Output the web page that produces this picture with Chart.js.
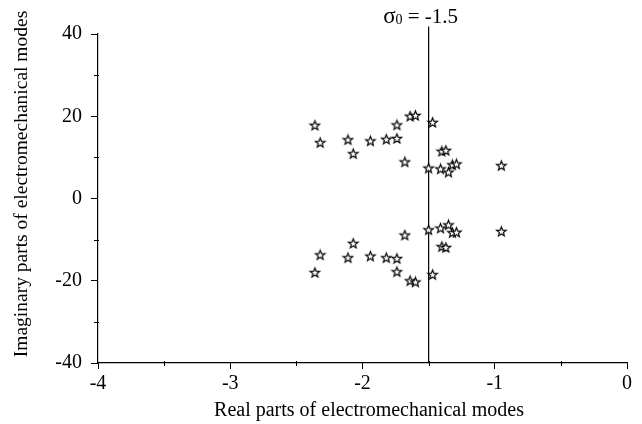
<!DOCTYPE html>
<html>
<head>
<meta charset="utf-8">
<script src="https://cdn.jsdelivr.net/npm/chart.js@4.4.1/dist/chart.umd.min.js"></script>
<style>
html,body{margin:0;padding:0;background:#fff;}
#wrap{width:642px;height:424px;}
</style>
</head>
<body>
<div id="wrap"><canvas id="c" width="642" height="424"></canvas></div>
<script>
// Data
const realParts = [-2.36, -2.32, -2.11, -2.07, -1.94, -1.82, -1.74, -1.74, -1.68, -1.64,
                   -1.60, -1.47, -1.50, -1.41, -1.35, -1.40, -1.37, -1.32, -1.29, -0.95];
const imagUpper = [17.8, 13.6, 14.3, 10.9, 14.0, 14.4, 14.6, 17.9, 8.9, 20.0,
                   20.2, 18.5, 7.4, 7.2, 6.4, 11.5, 11.7, 8.2, 8.4, 8.0];
const imagLower = [-18.0, -13.7, -14.4, -10.9, -14.0, -14.4, -14.6, -17.8, -8.9, -20.0,
                   -20.3, -18.5, -7.6, -7.2, -6.4, -11.7, -11.9, -8.3, -8.2, -8.0];
const sigma0 = -1.5;
const xTicks = [-4, -3, -2, -1, 0];
const yTicks = [-40, -20, 0, 20, 40];
const xMinorTicks = [-3.5, -2.5, -1.5, -0.5];
const yMinorTicks = [-30, -10, 10, 30];
const xTitle = 'Real parts of electromechanical modes';
const yTitle = 'Imaginary parts of electromechanical modes';

const FONT = '"Liberation Serif", "Times New Roman", serif';

// star marker
function makeStar() {
  const c = document.createElement('canvas');
  c.width = 13; c.height = 13;
  const g = c.getContext('2d');
  const cx = 6.5, cy = 6.9, R = 5.0, r = 2.1;
  g.beginPath();
  for (let i = 0; i < 10; i++) {
    const a = -Math.PI / 2 + i * Math.PI / 5;
    const rad = i % 2 === 0 ? R : r;
    const px = cx + rad * Math.cos(a), py = cy + rad * Math.sin(a);
    if (i === 0) g.moveTo(px, py); else g.lineTo(px, py);
  }
  g.closePath();
  g.fillStyle = '#fff';
  g.fill();
  g.lineWidth = 1.2;
  g.strokeStyle = '#000';
  g.lineJoin = 'miter';
  g.stroke();
  return c;
}
const star = makeStar();

const pointsUpper = realParts.map((x, i) => ({x: x, y: imagUpper[i]}));
const pointsLower = realParts.map((x, i) => ({x: x, y: imagLower[i]}));

const extras = {
  id: 'extras',
  afterDraw(chart) {
    const ctx = chart.ctx;
    const xs = chart.scales.x, ys = chart.scales.y;
    const area = chart.chartArea;
    ctx.save();
    ctx.strokeStyle = '#000';
    ctx.lineWidth = 1;
    // minor ticks
    xMinorTicks.forEach(v => {
      const px = Math.round(xs.getPixelForValue(v)) + 0.5;
      ctx.beginPath(); ctx.moveTo(px, area.bottom - 2); ctx.lineTo(px, area.bottom + 3); ctx.stroke();
    });
    yMinorTicks.forEach(v => {
      const py = Math.round(ys.getPixelForValue(v)) + 0.5;
      ctx.beginPath(); ctx.moveTo(area.left - 4, py); ctx.lineTo(area.left + 1, py); ctx.stroke();
    });
    // sigma label
    const lx = xs.getPixelForValue(sigma0);
    ctx.fillStyle = '#000';
    ctx.textBaseline = 'alphabetic';
    const s1 = 'σ', s2 = '0', s3 = ' = -1.5';
    ctx.font = '23px ' + FONT; const w1 = ctx.measureText(s1).width;
    ctx.font = '14px ' + FONT; const w2 = ctx.measureText(s2).width;
    ctx.font = '21px ' + FONT; const w3 = ctx.measureText(s3).width;
    let sx = lx - 8 - (w1 + w2 + w3) / 2;
    const base = 23;
    ctx.textAlign = 'left';
    ctx.font = '23px ' + FONT; ctx.fillText(s1, sx, base); sx += w1;
    ctx.font = '14px ' + FONT; ctx.fillText(s2, sx, base + 1); sx += w2;
    ctx.font = '21px ' + FONT; ctx.fillText(s3, sx, base);
    // axis titles
    ctx.font = '20px ' + FONT;
    ctx.textAlign = 'center';
    ctx.textBaseline = 'middle';
    ctx.fillText(xTitle, 369, 411);
    ctx.font = '19.5px ' + FONT;
    ctx.save();
    ctx.translate(22, 184);
    ctx.rotate(-Math.PI / 2);
    ctx.fillText(yTitle, 0, 0);
    ctx.restore();
    ctx.restore();
  }
};

new Chart(document.getElementById('c'), {
  type: 'scatter',
  data: {
    datasets: [
      {
        label: 'sigma0',
        type: 'line',
        data: [{x: sigma0, y: -40}, {x: sigma0, y: 41.8}],
        borderColor: '#000',
        borderWidth: 1.2,
        pointRadius: 0,
        clip: false,
        order: 2
      },
      {
        label: 'upper',
        data: pointsUpper,
        pointStyle: star,
        pointRadius: 6,
        order: 1
      },
      {
        label: 'lower',
        data: pointsLower,
        pointStyle: star,
        pointRadius: 6,
        order: 1
      }
    ]
  },
  options: {
    responsive: false,
    animation: false,
    devicePixelRatio: 1,
    layout: {padding: {top: 34, right: 15, left: 0, bottom: 0}},
    plugins: {legend: {display: false}, tooltip: {enabled: false}},
    scales: {
      x: {
        type: 'linear',
        min: -4, max: 0,
        afterBuildTicks: s => { s.ticks = xTicks.map(v => ({value: v})); },
        afterFit: s => { s.height = 61; },
        border: {display: true, color: '#000', width: 1.2},
        grid: {display: true, drawOnChartArea: false, drawTicks: true, tickLength: 6, color: '#000', lineWidth: 1},
        ticks: {color: '#000', padding: 3, font: {family: FONT, size: 20}, maxRotation: 0}
      },
      y: {
        type: 'linear',
        min: -40, max: 40,
        afterBuildTicks: s => { s.ticks = yTicks.map(v => ({value: v})); },
        afterFit: s => { s.width = 98; },
        border: {display: true, color: '#000', width: 1.2},
        grid: {display: true, drawOnChartArea: false, drawTicks: true, tickLength: 7, color: '#000', lineWidth: 1},
        ticks: {color: '#000', padding: 9, font: {family: FONT, size: 20}}
      }
    }
  },
  plugins: [extras]
});
</script>
</body>
</html>
